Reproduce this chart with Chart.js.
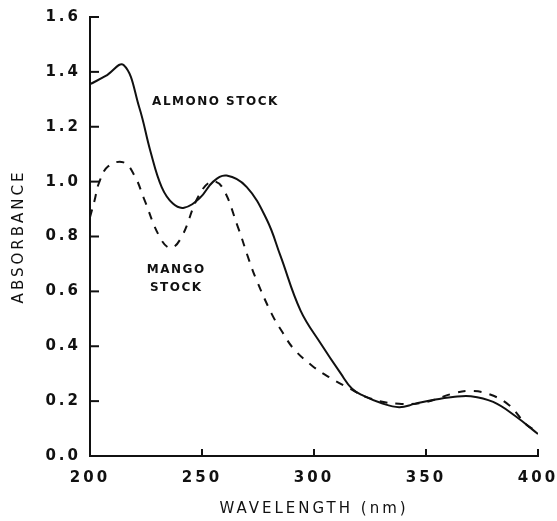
<!DOCTYPE html>
<html>
<head>
<meta charset="utf-8">
<script src="https://cdn.jsdelivr.net/npm/chart.js@4/dist/chart.umd.min.js"></script>
<style>
  html, body { margin: 0; padding: 0; background: #fff; }
  #wrap { width: 557px; height: 521px; }
</style>
</head>
<body>
<div id="wrap"><canvas id="chart" width="557" height="521"></canvas></div>
<script>
// values
const almondWavelength = [200, 207, 215, 222, 227, 232, 237, 242, 249, 255, 261, 270, 279, 285, 294, 303, 312, 317, 322, 330, 338, 345, 353, 362, 370, 380, 390, 400];
const almondAbsorbance = [1.355, 1.385, 1.425, 1.27, 1.11, 0.98, 0.92, 0.905, 0.94, 1.0, 1.022, 0.98, 0.86, 0.73, 0.53, 0.41, 0.30, 0.245, 0.22, 0.193, 0.178, 0.19, 0.204, 0.215, 0.218, 0.197, 0.145, 0.08];

const mangoWavelength = [200, 202, 204, 208, 215, 220, 224, 231, 236, 241, 248, 254, 259, 266, 271, 274, 281, 286, 291, 299, 307, 315, 325, 338, 350, 363, 370, 378, 387, 395, 400];
const mangoAbsorbance = [0.87, 0.93, 0.995, 1.055, 1.07, 1.02, 0.94, 0.80, 0.758, 0.80, 0.94, 1.0, 0.98, 0.835, 0.714, 0.648, 0.52, 0.45, 0.39, 0.33, 0.286, 0.25, 0.21, 0.19, 0.197, 0.23, 0.237, 0.226, 0.186, 0.113, 0.09];

const xTicks = [200, 250, 300, 350, 400];
const yTicks = [0, 0.2, 0.4, 0.6, 0.8, 1.0, 1.2, 1.4, 1.6];

const labels = [
  { text: "ALMONO STOCK", x: 256, y: 1.29 },
  { text: "MANGO", x: 238.5, y: 0.678 },
  { text: "STOCK", x: 238.5, y: 0.612 },
];

const ink = "#111";
const fontFamily = "'DejaVu Sans', sans-serif";

const toPoints = (xs, ys) => xs.map((x, i) => ({ x: x, y: ys[i] }));

// inward tick marks + text notes on the plot
const extras = {
  id: "extras",
  beforeDraw(chart) {
    chart.ctx.letterSpacing = "3px";
  },
  afterDraw(chart) {
    const ctx = chart.ctx;
    const xs = chart.scales.x;
    const ys = chart.scales.y;
    const area = chart.chartArea;
    ctx.save();
    ctx.strokeStyle = ink;
    ctx.lineWidth = 2;
    xTicks.forEach(function (v) {
      const px = xs.getPixelForValue(v);
      ctx.beginPath();
      ctx.moveTo(px, area.bottom);
      ctx.lineTo(px, area.bottom - 7);
      ctx.stroke();
    });
    yTicks.forEach(function (v) {
      const py = ys.getPixelForValue(v);
      ctx.beginPath();
      ctx.moveTo(area.left, py);
      ctx.lineTo(area.left + 9, py);
      ctx.stroke();
    });
    ctx.fillStyle = ink;
    ctx.font = "bold 12px " + fontFamily;
    ctx.letterSpacing = "1.5px";
    ctx.textAlign = "center";
    ctx.textBaseline = "middle";
    labels.forEach(function (l) {
      ctx.fillText(l.text, xs.getPixelForValue(l.x), ys.getPixelForValue(l.y));
    });
    ctx.restore();
  },
};

new Chart(document.getElementById("chart").getContext("2d"), {
  type: "line",
  data: {
    datasets: [
      {
        label: "Almond stock",
        data: toPoints(almondWavelength, almondAbsorbance),
        borderColor: ink,
        borderWidth: 2,
        pointRadius: 0,
        tension: 0.4,
        fill: false,
      },
      {
        label: "Mango stock",
        data: toPoints(mangoWavelength, mangoAbsorbance),
        borderColor: ink,
        borderWidth: 2,
        borderDash: [8, 8],
        pointRadius: 0,
        tension: 0.4,
        fill: false,
      },
    ],
  },
  options: {
    responsive: false,
    animation: false,
    layout: { padding: { top: 17, right: 19, left: 0, bottom: 0 } },
    plugins: {
      legend: { display: false },
      tooltip: { enabled: false },
    },
    scales: {
      x: {
        type: "linear",
        min: 200,
        max: 400,
        afterBuildTicks: (s) => { s.ticks = xTicks.map((v) => ({ value: v })); },
        afterFit: (s) => { s.height = 65; s.paddingLeft = 0; s.paddingRight = 0; },
        grid: { drawOnChartArea: false, drawTicks: false },
        border: { color: ink, width: 2 },
        ticks: {
          color: ink,
          padding: 13,
          font: { family: fontFamily, size: 15, weight: "bold" },
        },
        title: {
          display: true,
          text: "WAVELENGTH (nm)",
          color: ink,
          padding: { top: 0, bottom: 3 },
          font: { family: fontFamily, size: 15 },
        },
      },
      y: {
        min: 0,
        max: 1.6,
        afterBuildTicks: (s) => { s.ticks = yTicks.map((v) => ({ value: v })); },
        afterFit: (s) => { s.width = 90; s.paddingTop = 0; s.paddingBottom = 0; },
        grid: { drawOnChartArea: false, drawTicks: false },
        border: { color: ink, width: 2 },
        ticks: {
          color: ink,
          padding: 9,
          font: { family: fontFamily, size: 15, weight: "bold" },
          callback: (v) => Number(v).toFixed(1),
        },
        title: {
          display: true,
          text: "ABSORBANCE",
          color: ink,
          padding: { top: 10, bottom: 0 },
          font: { family: fontFamily, size: 15 },
        },
      },
    },
  },
  plugins: [extras],
});
</script>
</body>
</html>
